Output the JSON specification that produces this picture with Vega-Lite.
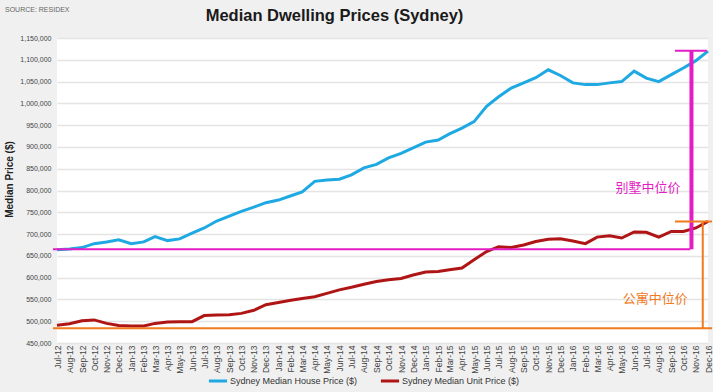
{
  "$schema": "https://vega.github.io/schema/vega-lite/v6.json",
  "width": 651,
  "height": 305,
  "autosize": {"type": "none"},
  "padding": {"left": 57, "top": 38, "right": 5, "bottom": 49},
  "background": "#f0f0f0",
  "title": {
    "text": "Median Dwelling Prices (Sydney)",
    "anchor": "middle",
    "frame": "group",
    "dx": -48,
    "offset": -18,
    "font": "Liberation Sans, Arial, sans-serif",
    "fontSize": 16.5,
    "fontWeight": "bold",
    "color": "#1a1a1a"
  },
  "config": {
    "view": {"fill": "white", "stroke": null},
    "font": "Liberation Sans, Arial, sans-serif"
  },
  "encoding": {
    "x": {
      "field": "month",
      "type": "temporal",
      "title": null,
      "scale": {
        "type": "utc",
        "domain": [
          {"year": 2012, "month": 7, "date": 1, "utc": true},
          {"year": 2016, "month": 12, "date": 1, "utc": true}
        ]
      },
      "axis": {
        "format": "%b-%y",
        "tickCount": {"interval": "month", "step": 1},
        "labelAngle": -90,
        "labelAlign": "right",
        "labelBaseline": "middle",
        "labelPadding": 2,
        "labelFontSize": 8.5,
        "labelColor": "#444444",
        "labelOverlap": false,
        "labelFlush": false,
        "ticks": false,
        "domain": false,
        "grid": false
      }
    },
    "y": {
      "field": "price",
      "type": "quantitative",
      "title": "Median Price ($)",
      "scale": {"domain": [450000, 1150000], "nice": false, "zero": false},
      "axis": {
        "values": [450000, 500000, 550000, 600000, 650000, 700000, 750000, 800000, 850000, 900000, 950000, 1000000, 1050000, 1100000, 1150000],
        "format": ",d",
        "labelFontSize": 7,
        "labelColor": "#444444",
        "labelPadding": 6,
        "ticks": false,
        "domain": false,
        "gridColor": "#e4e4e4",
        "gridWidth": 1.5,
        "titleFontSize": 10,
        "titleFontWeight": "bold",
        "titleColor": "#222222",
        "titleAngle": -90,
        "titleX": -48,
        "titleY": 141,
        "titleAlign": "center",
        "titleBaseline": "middle"
      }
    }
  },
  "layer": [
    {
      "data": {
        "values": [
          {"month": "2012-07-01", "Sydney Median House Price ($)": 664000, "Sydney Median Unit Price ($)": 491000},
          {"month": "2012-08-01", "Sydney Median House Price ($)": 666000, "Sydney Median Unit Price ($)": 494000},
          {"month": "2012-09-01", "Sydney Median House Price ($)": 669000, "Sydney Median Unit Price ($)": 501000},
          {"month": "2012-10-01", "Sydney Median House Price ($)": 678000, "Sydney Median Unit Price ($)": 503000},
          {"month": "2012-11-01", "Sydney Median House Price ($)": 682000, "Sydney Median Unit Price ($)": 495000},
          {"month": "2012-12-01", "Sydney Median House Price ($)": 687000, "Sydney Median Unit Price ($)": 490000},
          {"month": "2013-01-01", "Sydney Median House Price ($)": 678000, "Sydney Median Unit Price ($)": 489000},
          {"month": "2013-02-01", "Sydney Median House Price ($)": 682000, "Sydney Median Unit Price ($)": 489000},
          {"month": "2013-03-01", "Sydney Median House Price ($)": 694000, "Sydney Median Unit Price ($)": 495000},
          {"month": "2013-04-01", "Sydney Median House Price ($)": 685000, "Sydney Median Unit Price ($)": 498000},
          {"month": "2013-05-01", "Sydney Median House Price ($)": 689000, "Sydney Median Unit Price ($)": 499000},
          {"month": "2013-06-01", "Sydney Median House Price ($)": 702000, "Sydney Median Unit Price ($)": 499000},
          {"month": "2013-07-01", "Sydney Median House Price ($)": 714000, "Sydney Median Unit Price ($)": 513000},
          {"month": "2013-08-01", "Sydney Median House Price ($)": 730000, "Sydney Median Unit Price ($)": 514000},
          {"month": "2013-09-01", "Sydney Median House Price ($)": 741000, "Sydney Median Unit Price ($)": 515000},
          {"month": "2013-10-01", "Sydney Median House Price ($)": 752000, "Sydney Median Unit Price ($)": 518000},
          {"month": "2013-11-01", "Sydney Median House Price ($)": 762000, "Sydney Median Unit Price ($)": 525000},
          {"month": "2013-12-01", "Sydney Median House Price ($)": 772000, "Sydney Median Unit Price ($)": 538000},
          {"month": "2014-01-01", "Sydney Median House Price ($)": 778000, "Sydney Median Unit Price ($)": 543000},
          {"month": "2014-02-01", "Sydney Median House Price ($)": 788000, "Sydney Median Unit Price ($)": 548000},
          {"month": "2014-03-01", "Sydney Median House Price ($)": 797000, "Sydney Median Unit Price ($)": 552000},
          {"month": "2014-04-01", "Sydney Median House Price ($)": 821000, "Sydney Median Unit Price ($)": 556000},
          {"month": "2014-05-01", "Sydney Median House Price ($)": 824000, "Sydney Median Unit Price ($)": 564000},
          {"month": "2014-06-01", "Sydney Median House Price ($)": 826000, "Sydney Median Unit Price ($)": 572000},
          {"month": "2014-07-01", "Sydney Median House Price ($)": 836000, "Sydney Median Unit Price ($)": 578000},
          {"month": "2014-08-01", "Sydney Median House Price ($)": 852000, "Sydney Median Unit Price ($)": 585000},
          {"month": "2014-09-01", "Sydney Median House Price ($)": 860000, "Sydney Median Unit Price ($)": 591000},
          {"month": "2014-10-01", "Sydney Median House Price ($)": 875000, "Sydney Median Unit Price ($)": 595000},
          {"month": "2014-11-01", "Sydney Median House Price ($)": 885000, "Sydney Median Unit Price ($)": 598000},
          {"month": "2014-12-01", "Sydney Median House Price ($)": 898000, "Sydney Median Unit Price ($)": 606000},
          {"month": "2015-01-01", "Sydney Median House Price ($)": 911000, "Sydney Median Unit Price ($)": 613000},
          {"month": "2015-02-01", "Sydney Median House Price ($)": 916000, "Sydney Median Unit Price ($)": 614000},
          {"month": "2015-03-01", "Sydney Median House Price ($)": 930000, "Sydney Median Unit Price ($)": 618000},
          {"month": "2015-04-01", "Sydney Median House Price ($)": 943000, "Sydney Median Unit Price ($)": 622000},
          {"month": "2015-05-01", "Sydney Median House Price ($)": 958000, "Sydney Median Unit Price ($)": 641000},
          {"month": "2015-06-01", "Sydney Median House Price ($)": 993000, "Sydney Median Unit Price ($)": 660000},
          {"month": "2015-07-01", "Sydney Median House Price ($)": 1015000, "Sydney Median Unit Price ($)": 671000},
          {"month": "2015-08-01", "Sydney Median House Price ($)": 1035000, "Sydney Median Unit Price ($)": 669000},
          {"month": "2015-09-01", "Sydney Median House Price ($)": 1047000, "Sydney Median Unit Price ($)": 675000},
          {"month": "2015-10-01", "Sydney Median House Price ($)": 1059000, "Sydney Median Unit Price ($)": 683000},
          {"month": "2015-11-01", "Sydney Median House Price ($)": 1077000, "Sydney Median Unit Price ($)": 688000},
          {"month": "2015-12-01", "Sydney Median House Price ($)": 1064000, "Sydney Median Unit Price ($)": 689000},
          {"month": "2016-01-01", "Sydney Median House Price ($)": 1047000, "Sydney Median Unit Price ($)": 684000},
          {"month": "2016-02-01", "Sydney Median House Price ($)": 1043000, "Sydney Median Unit Price ($)": 678000},
          {"month": "2016-03-01", "Sydney Median House Price ($)": 1043000, "Sydney Median Unit Price ($)": 693000},
          {"month": "2016-04-01", "Sydney Median House Price ($)": 1047000, "Sydney Median Unit Price ($)": 696000},
          {"month": "2016-05-01", "Sydney Median House Price ($)": 1050000, "Sydney Median Unit Price ($)": 691000},
          {"month": "2016-06-01", "Sydney Median House Price ($)": 1074000, "Sydney Median Unit Price ($)": 705000},
          {"month": "2016-07-01", "Sydney Median House Price ($)": 1058000, "Sydney Median Unit Price ($)": 704000},
          {"month": "2016-08-01", "Sydney Median House Price ($)": 1050000, "Sydney Median Unit Price ($)": 693000},
          {"month": "2016-09-01", "Sydney Median House Price ($)": 1066000, "Sydney Median Unit Price ($)": 706000},
          {"month": "2016-10-01", "Sydney Median House Price ($)": 1081000, "Sydney Median Unit Price ($)": 706000},
          {"month": "2016-11-01", "Sydney Median House Price ($)": 1098000, "Sydney Median Unit Price ($)": 714000},
          {"month": "2016-12-01", "Sydney Median House Price ($)": 1120000, "Sydney Median Unit Price ($)": 729000}
        ]
      },
      "transform": [
        {"fold": ["Sydney Median House Price ($)", "Sydney Median Unit Price ($)"], "as": ["series", "price"]}
      ],
      "mark": {"type": "line", "strokeWidth": 3},
      "encoding": {
        "color": {
          "field": "series",
          "type": "nominal",
          "scale": {
            "domain": ["Sydney Median House Price ($)", "Sydney Median Unit Price ($)"],
            "range": ["#1ea9e3", "#b01515"]
          },
          "legend": {
            "orient": "none",
            "legendX": 150,
            "legendY": 332,
            "direction": "horizontal",
            "columns": 2,
            "title": null,
            "symbolType": "stroke",
            "symbolSize": 330,
            "symbolStrokeWidth": 3,
            "labelFontSize": 9,
            "labelColor": "#333333",
            "labelOffset": 1,
            "columnPadding": 16,
            "labelLimit": 300
          }
        }
      }
    },
    {
      "data": {
        "values": [
          {"month": "2012-06-21", "month2": "2016-10-18", "price": 665000, "price2": 665000},
          {"month": "2016-09-10", "month2": "2016-11-28", "price": 1121000, "price2": 1121000}
        ]
      },
      "mark": {"type": "rule", "color": "#e31cc3", "strokeWidth": 2},
      "encoding": {
        "x2": {"field": "month2"},
        "y2": {"field": "price2"}
      }
    },
    {
      "data": {
        "values": [
          {"month": "2016-10-21", "month2": "2016-10-21", "price": 665000, "price2": 1121000}
        ]
      },
      "mark": {"type": "rule", "color": "#e31cc3", "strokeWidth": 4},
      "encoding": {
        "x2": {"field": "month2"},
        "y2": {"field": "price2"}
      }
    },
    {
      "data": {
        "values": [
          {"month": "2012-06-21", "month2": "2016-12-11", "price": 484000, "price2": 484000},
          {"month": "2016-11-18", "month2": "2016-11-18", "price": 484000, "price2": 729000},
          {"month": "2016-09-10", "month2": "2016-12-11", "price": 729000, "price2": 729000}
        ]
      },
      "mark": {"type": "rule", "color": "#f07a1e", "strokeWidth": 2},
      "encoding": {
        "x2": {"field": "month2"},
        "y2": {"field": "price2"}
      }
    },
    {
      "data": {
        "values": [
          {"month": "2016-07-05", "price": 805000, "label": "别墅中位价"}
        ]
      },
      "mark": {"type": "text", "color": "#e31cc3", "font": "Noto Sans CJK SC", "fontSize": 13, "align": "center", "baseline": "middle"},
      "encoding": {"text": {"field": "label"}}
    },
    {
      "data": {
        "values": [
          {"month": "2016-07-23", "price": 551000, "label": "公寓中位价"}
        ]
      },
      "mark": {"type": "text", "color": "#f07a1e", "font": "Noto Sans CJK SC", "fontSize": 13, "align": "center", "baseline": "middle"},
      "encoding": {"text": {"field": "label"}}
    },
    {
      "data": {
        "values": [
          {"month": "2012-02-23", "price": 1214000, "label": "SOURCE: RESIDEX"}
        ]
      },
      "mark": {"type": "text", "color": "#666666", "fontSize": 7, "align": "left", "baseline": "middle"},
      "encoding": {"text": {"field": "label"}}
    }
  ]
}
